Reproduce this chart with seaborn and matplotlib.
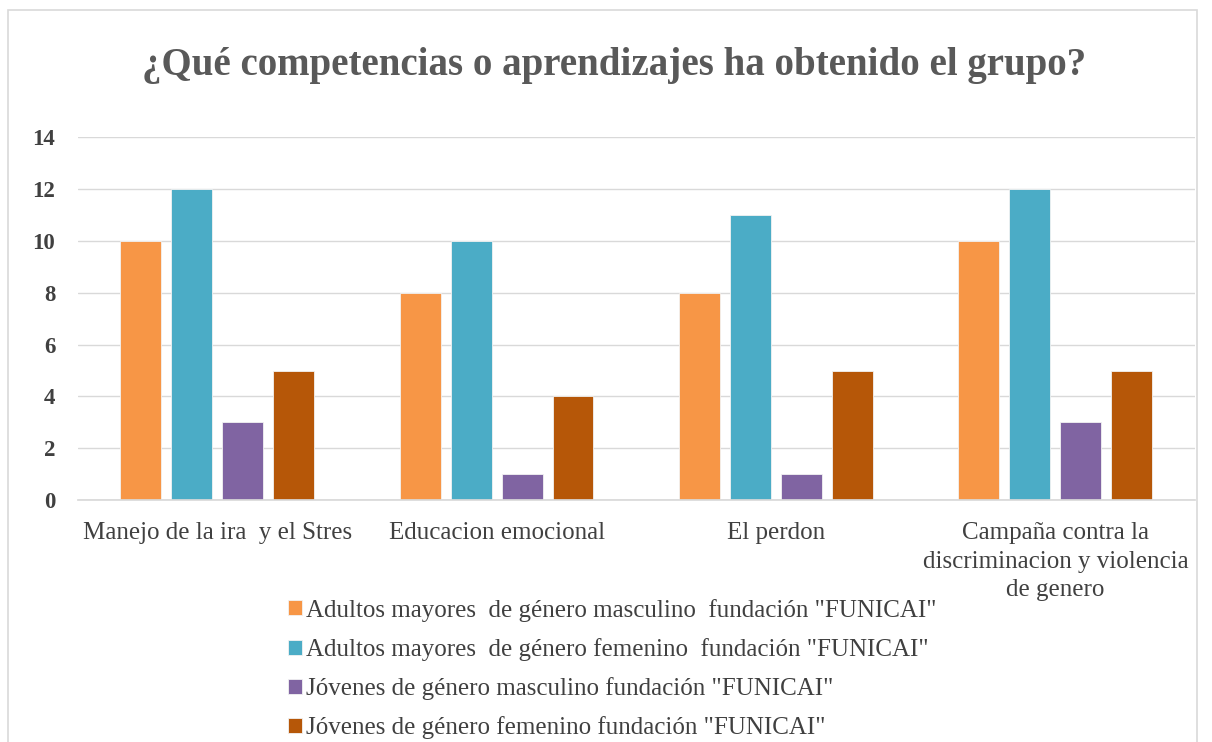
import numpy as np
import pandas as pd
import seaborn as sns
import matplotlib.pyplot as plt
from matplotlib.patches import Rectangle

sns.set_theme(style="white")
plt.rcParams['font.family'] = ['Liberation Serif', 'DejaVu Serif']

# datos
categorias = ["Manejo de la ira  y el Stres", "Educacion emocional", "El perdon",
              "Campaña contra la\ndiscriminacion y violencia\nde genero"]
grupos = ['Adultos mayores  de género masculino  fundación "FUNICAI"',
          'Adultos mayores  de género femenino  fundación "FUNICAI"',
          'Jóvenes de género masculino fundación "FUNICAI"',
          'Jóvenes de género femenino fundación "FUNICAI"']
adultos_masc = [10, 8, 8, 10]
adultos_fem = [12, 10, 11, 12]
jovenes_masc = [3, 1, 1, 3]
jovenes_fem = [5, 4, 5, 5]
colores = ["#F79646", "#4BACC6", "#8064A2", "#B65708"]

df = pd.DataFrame({
    "categoria": categorias * 4,
    "grupo": np.repeat(grupos, 4),
    "valor": adultos_masc + adultos_fem + jovenes_masc + jovenes_fem,
})

fig = plt.figure(figsize=(12.12, 7.42), dpi=100)
ax = fig.add_axes([0.064, 0.326, 0.922, 0.489])

sns.barplot(data=df, x="categoria", y="valor", hue="grupo", palette=colores,
            saturation=1, width=0.73, gap=0.2, ax=ax, edgecolor="#F2F2F2", linewidth=0.6)

ax.set_ylim(0, 14)
ax.set_yticks(range(0, 15, 2))
ax.yaxis.grid(True, color="#D9D9D9", linewidth=1)
ax.set_axisbelow(True)
for s in ["top", "right", "left"]:
    ax.spines[s].set_visible(False)
ax.spines["bottom"].set_color("#D9D9D9")
ax.set_xlabel("")
ax.set_ylabel("")
ax.tick_params(axis="y", length=0, pad=16, labelsize=16.5, labelcolor="#404040")
ax.tick_params(axis="x", length=0, pad=16, labelsize=18, labelcolor="#404040")
for t in ax.get_yticklabels():
    t.set_fontweight("bold")
for t in ax.get_xticklabels():
    t.set_linespacing(1.38)
    t.set_verticalalignment("top")

fig.text(0.507, 0.912, "¿Qué competencias o aprendizajes ha obtenido el grupo?",
         ha="center", va="center", fontsize=28, fontweight="bold", color="#595959")

h, l = ax.get_legend_handles_labels()
ax.legend(h, l, loc="upper left", bbox_to_anchor=(0.238, 0.193),
          bbox_transform=fig.transFigure, ncol=1, frameon=False, fontsize=18,
          handlelength=0.55, handleheight=0.55, handletextpad=0.15,
          labelspacing=0.65, borderpad=0, borderaxespad=0, labelcolor="#404040")

# marco del grafico
fig.patches.append(Rectangle((0.007, -0.1), 0.981, 1.087, transform=fig.transFigure,
                             fill=False, edgecolor="#D9D9D9", linewidth=1.2))

fig.savefig("out.png", dpi=100)
